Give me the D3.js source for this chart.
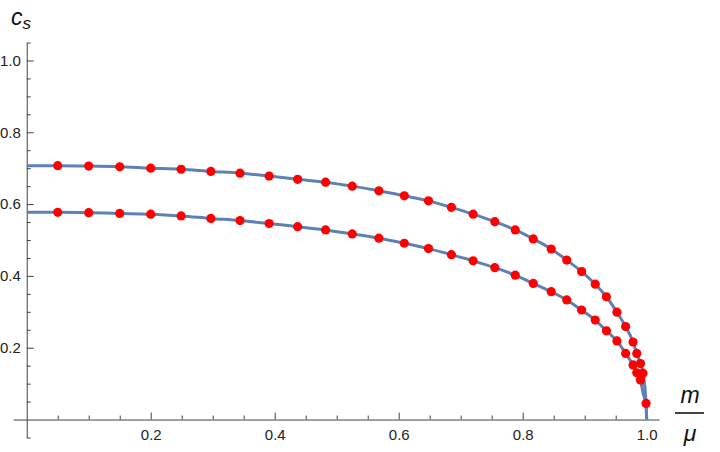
<!DOCTYPE html>
<html>
<head>
<meta charset="utf-8">
<script src="https://cdn.jsdelivr.net/npm/d3@7"></script>
<style>
  body { margin: 0; background: #fff; }
  svg { display: block; }
  .tick text { font-family: "Liberation Sans", Arial, sans-serif; font-size: 15px; fill: #222; }
</style>
</head>
<body>
<script>
// m/mu sample positions (shared by both series)
var mX = [0.05, 0.1, 0.15, 0.2, 0.249, 0.297, 0.344, 0.391, 0.437, 0.482,
          0.525, 0.568, 0.609, 0.648, 0.685, 0.72, 0.755, 0.788, 0.817, 0.846,
          0.871, 0.895, 0.917, 0.935, 0.952, 0.966, 0.978, 0.984, 0.99, 0.994, 0.999];

var csUpper = [0.707, 0.706, 0.704, 0.700, 0.697, 0.691, 0.686, 0.678, 0.669, 0.661,
               0.650, 0.637, 0.623, 0.609, 0.591, 0.572, 0.551, 0.528, 0.503, 0.475,
               0.444, 0.412, 0.377, 0.342, 0.299, 0.259, 0.216, 0.184, 0.156, 0.129, 0.045];

var csLower = [0.577, 0.576, 0.574, 0.572, 0.567, 0.560, 0.554, 0.546, 0.537, 0.528,
               0.517, 0.505, 0.491, 0.476, 0.459, 0.442, 0.423, 0.402, 0.379, 0.356,
               0.333, 0.305, 0.277, 0.247, 0.219, 0.184, 0.152, 0.130, 0.110, 0.075, 0.037];

// which lower samples were plotted as dots (the last few near 1 are hidden/absent)
var lowerDots = 29;

// curve end values at m/mu = 0 and 1
var curveStart = [0.707, 0.577];
var curveEnd = 0;

var xMajor = [0.2, 0.4, 0.6, 0.8, 1.0];
var yMajor = [0.2, 0.4, 0.6, 0.8, 1.0];

var W = 720, H = 452;

var x = d3.scaleLinear().domain([-0.022, 1.02]).range([13.1, 659.1]);
var y = d3.scaleLinear().domain([-0.05, 1.05]).range([437.5, 42.5]);

var svg = d3.select("body").append("svg").attr("width", W).attr("height", H);
svg.append("rect").attr("width", W).attr("height", H).attr("fill", "#fff");

function minorVals(lo, hi, majors) {
    var out = [];
    for (var i = Math.round(lo * 20); i <= Math.round(hi * 20); i++) {
        var v = i / 20;
        if (v === 0) continue;
        if (majors.some(function (m) { return Math.abs(m - v) < 1e-9; })) continue;
        out.push(v);
    }
    return out;
}

// x axis
var gx = svg.append("g").attr("transform", "translate(0," + y(0) + ")");
gx.call(d3.axisBottom(x).tickValues(xMajor).tickFormat(d3.format(".1f"))
    .tickSizeInner(-7).tickSizeOuter(0).tickPadding(10));
gx.append("g").call(d3.axisBottom(x).tickValues(minorVals(0.05, 1.0, xMajor))
    .tickFormat("").tickSizeInner(-4).tickSizeOuter(0))
    .select(".domain").remove();

// y axis
var gy = svg.append("g").attr("transform", "translate(" + x(0) + ",0)");
gy.call(d3.axisLeft(y).tickValues(yMajor).tickFormat(d3.format(".1f"))
    .tickSizeInner(-7).tickSizeOuter(0).tickPadding(6));
gy.append("g").call(d3.axisLeft(y).tickValues(minorVals(-0.05, 1.05, yMajor))
    .tickFormat("").tickSizeInner(-4).tickSizeOuter(0))
    .select(".domain").remove();

svg.selectAll(".domain, .tick line").attr("stroke", "#444").attr("stroke-width", 1);

// curves
var line = d3.line()
    .x(function (d) { return x(d[0]); })
    .y(function (d) { return y(d[1]); })
    .curve(d3.curveMonotoneX);

[csUpper, csLower].forEach(function (vals, k) {
    var pts = [[0, curveStart[k]]];
    mX.forEach(function (m, i) { pts.push([m, vals[i]]); });
    pts.push([1, curveEnd]);
    svg.append("path").datum(pts)
        .attr("d", line)
        .attr("fill", "none")
        .attr("stroke", "#5e81b5")
        .attr("stroke-width", 3);
});

// dots
var dots = [];
mX.forEach(function (m, i) { dots.push([m, csUpper[i]]); });
mX.forEach(function (m, i) { if (i < lowerDots) dots.push([m, csLower[i]]); });

svg.append("g").selectAll("circle")
    .data(dots)
    .enter()
    .append("circle")
    .attr("cx", function (d) { return x(d[0]); })
    .attr("cy", function (d) { return y(d[1]); })
    .attr("r", 4.6)
    .attr("fill", "#ff0000");

// axis labels
var lab = svg.append("text")
    .attr("x", 11).attr("y", 25)
    .attr("font-family", "'Liberation Sans', Arial, sans-serif")
    .attr("font-style", "italic")
    .attr("fill", "#111");
lab.append("tspan").attr("font-size", 23).text("c");
lab.append("tspan").attr("font-size", 17).attr("dy", 4).text("s");

svg.append("text")
    .attr("x", 690).attr("y", 403)
    .attr("text-anchor", "middle")
    .attr("font-family", "'Liberation Sans', Arial, sans-serif")
    .attr("font-style", "italic")
    .attr("font-size", 23)
    .attr("fill", "#111")
    .text("m");
svg.append("line")
    .attr("x1", 675).attr("x2", 704)
    .attr("y1", 413).attr("y2", 413)
    .attr("stroke", "#111").attr("stroke-width", 1.6);
svg.append("text")
    .attr("x", 690).attr("y", 441)
    .attr("text-anchor", "middle")
    .attr("font-family", "'Liberation Sans', Arial, sans-serif")
    .attr("font-style", "italic")
    .attr("font-size", 23)
    .attr("fill", "#111")
    .text("μ");
</script>
</body>
</html>
